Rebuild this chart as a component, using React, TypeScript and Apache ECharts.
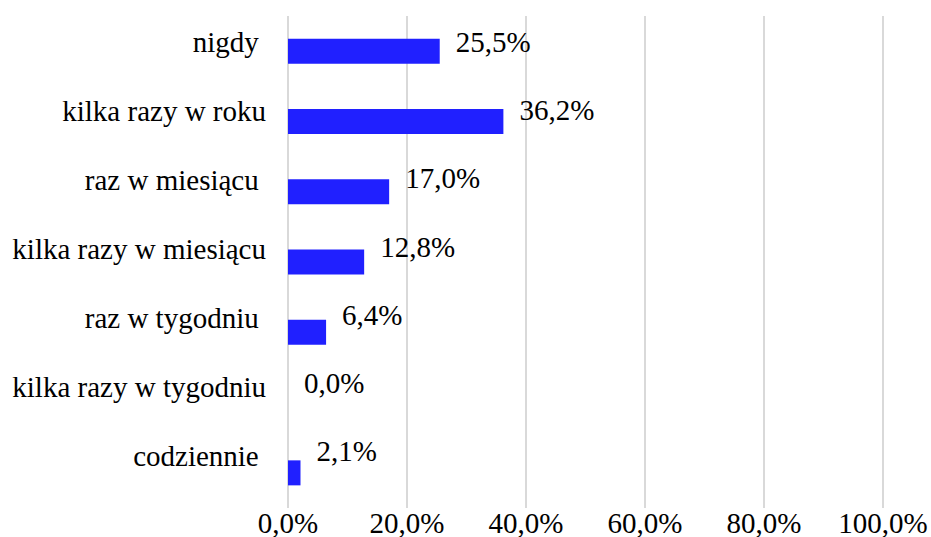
import React, { useEffect, useRef } from "react";
import * as echarts from "echarts";

const categories = [
  "nigdy ",
  "kilka razy w roku",
  "raz w miesiącu ",
  "kilka razy w miesiącu",
  "raz w tygodniu ",
  "kilka razy w tygodniu",
  "codziennie ",
];
const values = [25.5, 36.2, 17.0, 12.8, 6.4, 0.0, 2.1];
const axisMin = 0;
const axisMax = 100;
const axisStep = 20;

const FONT = "Liberation Serif";
const FS = 29;
const fmt = (v: number) => v.toFixed(1).replace(".", ",") + "%";

export default function App() {
  const ref = useRef<HTMLDivElement>(null);
  useEffect(() => {
    if (!ref.current) return;
    const chart = echarts.init(ref.current, undefined, { renderer: "svg" });

    const plotLeft = 288;
    const plotWidth = 595;
    const barTop = 16;
    const barHeight = 497;
    const textTop = 8;
    const textHeight = 482;
    const n = categories.length;
    const barBand = barHeight / n;
    const textBand = textHeight / n;

    const data = values.map((v, i) => ({
      value: v,
      label: {
        offset: [0, textTop + textBand * (i + 0.5) - (barTop + barBand * (i + 0.5))],
      },
    }));

    chart.setOption({
      animation: false,
      backgroundColor: "#ffffff",
      textStyle: { fontFamily: FONT },
      grid: [
        { left: plotLeft, width: plotWidth, top: barTop, height: barHeight },
        { left: plotLeft, width: plotWidth, top: textTop, height: textHeight },
      ],
      xAxis: [
        {
          gridIndex: 0,
          type: "value",
          min: axisMin,
          max: axisMax,
          interval: axisStep,
          axisLine: { show: false },
          axisTick: { show: false },
          splitLine: { show: true, lineStyle: { color: "#d9d9d9", width: 2 } },
          axisLabel: {
            formatter: (v: number) => fmt(v),
            fontFamily: FONT,
            fontSize: FS,
            color: "#000000",
            margin: 0,
          },
        },
        { gridIndex: 1, type: "value", min: axisMin, max: axisMax, show: false },
      ],
      yAxis: [
        {
          gridIndex: 0,
          type: "category",
          data: categories,
          inverse: true,
          axisLine: { show: false },
          axisTick: { show: false },
          axisLabel: { show: false },
          splitLine: { show: false },
        },
        {
          gridIndex: 1,
          type: "category",
          data: categories,
          inverse: true,
          axisLine: { show: false },
          axisTick: { show: false },
          splitLine: { show: false },
          axisLabel: {
            fontFamily: FONT,
            fontSize: FS,
            color: "#000000",
            margin: 22,
            interval: 0,
          },
        },
      ],
      series: [
        {
          type: "bar",
          xAxisIndex: 0,
          yAxisIndex: 0,
          data,
          barWidth: 25,
          itemStyle: { color: "#2020ff" },
          label: {
            show: true,
            position: "right",
            distance: 16,
            formatter: (p: any) => fmt(p.value),
            fontFamily: FONT,
            fontSize: FS,
            color: "#000000",
          },
        },
      ],
    });
    return () => chart.dispose();
  }, []);
  return (
    <div
      ref={ref}
      style={{ position: "fixed", left: 0, top: 0, width: 931, height: 537 }}
    />
  );
}
